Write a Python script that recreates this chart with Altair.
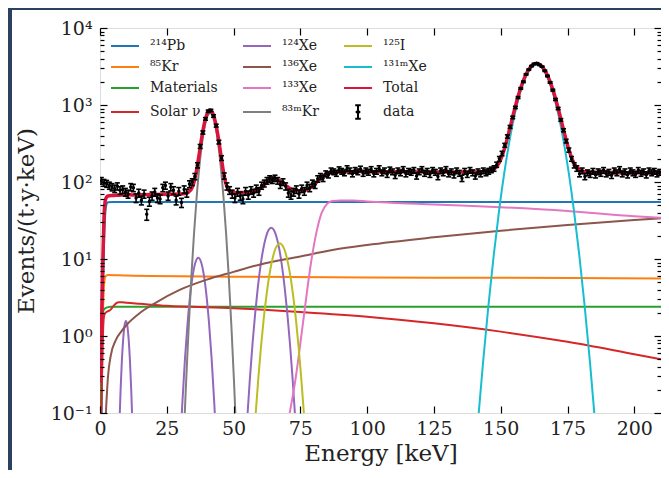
import altair as alt
import pandas as pd

# ---------------- axes ----------------
x_ticks = [0, 25, 50, 75, 100, 125, 150, 175, 200]
y_ticks = [0.1, 1, 10, 100, 1000, 10000]
y_tick_labels = ["10⁻¹", "10⁰", "10¹", "10²", "10³", "10⁴"]
y_minor_mult = [2, 3, 4, 5, 6, 7, 8, 9]
y_minor = [m * d for d in [0.1, 1, 10, 100, 1000] for m in y_minor_mult]

# ---------------- legend (column-major order, 3 columns x 4 rows) ----------------
legend_order = ["²¹⁴Pb", "⁸⁵Kr", "Materials", "Solar ν",
                "¹²⁴Xe", "¹³⁶Xe", "¹³³Xe", "⁸³ᵐKr",
                "¹²⁵I", "¹³¹ᵐXe", "Total", "data"]
legend_colors = ["#1f77b4", "#ff7f0e", "#2ca02c", "#d62728",
                 "#9467bd", "#8c564b", "#e377c2", "#7f7f7f",
                 "#bcbd22", "#17becf", "#dc143c", "#000000"]
LINE = "M-2,0L2,0"
ERRBAR = "M0,-0.95L0,0.95M-0.4,-0.95L0.4,-0.95M-0.4,0.95L0.4,0.95M-0.2,0L0,-0.2L0.2,0L0,0.2Z"
legend_shapes = [LINE] * 11 + [ERRBAR]

# ---------------- fitted components: energy [keV], rate [events/(t·y·keV)] ----------------
pb214_e = [0.5, 1.0, 1.5, 2.0, 2.5, 3.0, 5, 210]
pb214_v = [0.05, 2, 15, 40, 52, 54.5, 55, 55]

kr85_e = [0, 0.5, 1, 1.5, 2, 3, 10, 50, 100, 150, 210]
kr85_v = [0.05, 0.3, 1.5, 4.5, 5.9, 6.2, 6.1, 5.9, 5.75, 5.7, 5.6]

mat_e = [0, 0.3, 0.6, 1, 2, 4, 210]
mat_v = [0.1, 0.3, 0.9, 2.0, 2.3, 2.4, 2.4]

solar_e = [0.5, 1, 1.5, 2, 3, 4, 5, 6, 7, 8, 10, 15, 25, 50, 75, 100, 125, 150, 175, 200, 210]
solar_v = [0.1, 0.8, 1.8, 2.0, 2.1, 2.2, 2.45, 2.65, 2.75, 2.75, 2.7, 2.62, 2.47, 2.3, 2.05,
           1.78, 1.46, 1.14, 0.84, 0.58, 0.5]

xe124_e = [6.7, 7.2, 7.7, 8.2, 8.7, 9.2, 9.7, 10.2, 10.7, 11.2, 11.7, 12.2, 12.7,
           28.8, 29.8, 30.8, 31.8, 32.8, 33.8, 34.8, 35.8, 36.8, 37.8, 38.8, 39.8, 40.8,
           41.8, 42.8, 43.8, 44.8,
           53.1, 54.1, 55.1, 56.1, 57.1, 58.1, 59.1, 60.1, 61.1, 62.1, 63.1, 64.1, 65.1,
           66.1, 67.1, 68.1, 69.1, 70.1, 71.1, 72.1, 73.1, 74.1, 75.1]
xe124_v = [0.015, 0.061, 0.196, 0.49, 0.93, 1.38, 1.57, 1.38, 0.93, 0.49, 0.196, 0.061, 0.015,
           0.0044, 0.027, 0.13, 0.50, 1.49, 3.49, 6.4, 9.2, 10.4, 9.2, 6.4, 3.49, 1.49,
           0.50, 0.13, 0.027, 0.0044,
           0.0049, 0.022, 0.083, 0.277, 0.80, 2.0, 4.35, 8.2, 13.5, 19.2, 23.8, 25.5, 23.8,
           19.2, 13.5, 8.2, 4.35, 2.0, 0.80, 0.277, 0.083, 0.022, 0.0049]

i125_e = [56.3, 57.3, 58.3, 59.3, 60.3, 61.3, 62.3, 63.3, 64.3, 65.3, 66.3, 67.3,
          68.3, 69.3, 70.3, 71.3, 72.3, 73.3, 74.3, 75.3, 76.3, 77.3, 78.3]
i125_v = [0.0083, 0.031, 0.101, 0.293, 0.75, 1.69, 3.35, 5.9, 9.1, 12.5, 15.0, 16.0,
          15.0, 12.5, 9.1, 5.9, 3.35, 1.69, 0.75, 0.293, 0.101, 0.031, 0.0083]

xe136_e = [2.2, 3, 4, 6, 8, 10, 15, 20, 30, 40, 50, 60, 75, 87, 100, 125, 150, 175, 200, 210]
xe136_v = [0.1, 0.3, 0.55, 0.9, 1.15, 1.4, 2.0, 2.6, 4.0, 5.4, 6.8, 8.5, 10.8, 13.1,
           15.2, 19.1, 23.3, 27.7, 32.0, 33.7]

xe133_e = [71, 73, 75, 77, 79, 81, 83, 85, 87, 90, 95, 100, 125, 150, 175, 200, 210]
xe133_v = [0.1, 0.25, 0.8, 2.8, 9, 22, 40, 52, 56.5, 57.5, 57.5, 56, 51, 47, 42, 36, 34.4]

kr83m_e = [30.2, 31.2, 32.2, 33.2, 34.2, 35.2, 36.2, 37.2, 38.2, 39.2, 40.2, 41.2,
           42.2, 43.2, 44.2, 45.2, 46.2, 47.2, 48.2, 49.2, 50.2, 51.2, 52.2]
kr83m_v = [0.0044, 0.036, 0.24, 1.31, 5.9, 21.6, 64.9, 160, 321, 530, 715, 790,
           715, 530, 321, 160, 64.9, 21.6, 5.9, 1.31, 0.24, 0.036, 0.0044]

xe131m_e = [139.4, 141.4, 143.4, 145.4, 147.4, 149.4, 151.4, 153.4, 155.4, 157.4, 159.4,
            161.4, 163.4, 165.4, 167.4, 169.4, 171.4, 173.4, 175.4, 177.4, 179.4, 181.4,
            183.4, 185.4, 187.4]
xe131m_v = [0.0092, 0.071, 0.46, 2.49, 11.3, 42.8, 136, 361, 803, 1496, 2334,
            3047, 3330, 3047, 2334, 1496, 803, 361, 136, 42.8, 11.3, 2.49,
            0.46, 0.071, 0.0092]

total_e = [0, 0.5, 1, 1.5, 2, 2.5, 3, 5, 8, 9, 9.7, 10.5, 12, 15, 20, 25, 30, 32, 34, 35,
           36, 37, 38, 39, 40, 41.2, 42, 43, 44, 45, 46, 47, 48, 49, 50, 52, 54, 56, 58,
           60, 61, 62, 63, 64, 65, 66, 67, 68, 69, 70, 71, 72, 73, 74, 75, 76, 77, 78, 79,
           80, 81, 82, 83, 84, 85, 87, 90, 95, 100, 110, 125, 140, 143.4, 145.4, 147.4,
           149.4, 151.4, 153.4, 155.4, 157.4, 159.4, 161.4, 163.4, 165.4, 167.4, 169.4,
           171.4, 173.4, 175.4, 177.4, 179.4, 181.4, 183.4, 185.4, 200, 210]
total_v = [0.25, 1.0, 8, 35, 58, 64, 66, 66.8, 67.8, 68.6, 69.2, 68.6, 68, 68.1, 68.6, 69.3,
           69.9, 71, 78.8, 94.4, 133, 216, 363, 564, 758, 862, 813, 642, 432, 258, 151, 99,
           79.6, 73.7, 72.3, 72.7, 73.1, 73.7, 75.7, 82.5, 88.4, 95.9, 102.9, 108.2, 110.3,
           109, 105, 99.2, 93.2, 87.5, 83.1, 79.9, 78, 77, 76.9, 77.5, 78.7, 81, 85.1, 90.7,
           98.3, 107.4, 116.5, 123.6, 128.7, 133.5, 134.8, 137, 136.1, 135.6, 134.7, 134.5,
           134.9, 137, 145.8, 177, 270, 495, 937, 1630, 2468, 3181, 3464, 3181, 2468, 1630,
           937, 495, 270, 176, 145, 136, 134, 133.7, 131.6, 131.6]

# ---------------- measured data (1 keV bins, lower edges 0..209) ----------------
data_bin_low = list(range(210))
data_rate = [
    104, 98, 95, 90, 86, 82, 88, 78, 80, 74,
    70, 86, 84, 62, 72, 58, 70, 38, 56, 66,
    74, 62, 60, 84, 90, 66, 86, 78, 58, 76,
    54, 80, 72, 94, 100, 118, 165, 290, 440, 660,
    830, 850, 720, 540, 330, 205, 120, 88, 78, 70,
    62, 74, 66, 60, 76, 68, 78, 72, 82, 76,
    90, 96, 104, 110, 106, 112, 104, 92, 100, 88,
    72, 68, 74, 80, 70, 82, 76, 90, 84, 96,
    92, 110, 118, 112, 128, 124, 140, 136, 130, 145,
    138, 132, 150, 140, 128, 142, 136, 148, 130, 140,
    134, 146, 128, 138, 150, 132, 140, 126, 144, 136,
    122, 140, 132, 146, 128, 138, 134, 142, 120, 136,
    146, 130, 138, 126, 142, 134, 118, 140, 132, 146,
    128, 136, 124, 140, 130, 112, 138, 126, 142, 132,
    120, 136, 128, 140, 132, 138, 144, 150, 168, 200,
    235, 300, 390, 520, 690, 930, 1250, 1640, 2000, 2500,
    2880, 3200, 3420, 3480, 3320, 3150, 2780, 2380, 1960, 1560,
    1180, 900, 640, 470, 340, 260, 200, 165, 150, 128,
    140, 118, 132, 126, 138, 124, 136, 130, 142, 128,
    134, 122, 140, 132, 146, 128, 136, 124, 140, 132,
    126, 142, 130, 136, 124, 140, 132, 138, 128, 134,
]

# ---------------- tables ----------------
components = [
    ("²¹⁴Pb", pb214_e, pb214_v), ("⁸⁵Kr", kr85_e, kr85_v), ("Materials", mat_e, mat_v),
    ("Solar ν", solar_e, solar_v), ("¹²⁴Xe", xe124_e, xe124_v), ("¹³⁶Xe", xe136_e, xe136_v),
    ("¹³³Xe", xe133_e, xe133_v), ("⁸³ᵐKr", kr83m_e, kr83m_v), ("¹²⁵I", i125_e, i125_v),
    ("¹³¹ᵐXe", xe131m_e, xe131m_v),
]
comp_df = pd.DataFrame([{"series": n, "E": e, "V": v}
                        for n, es, vs in components for e, v in zip(es, vs)])
total_df = pd.DataFrame({"series": "Total", "E": total_e, "V": total_v})
data_df = pd.DataFrame({"low": data_bin_low, "rate": data_rate})

# ---------------- styling ----------------
SERIF = "DejaVu Serif"
TXT = "#222222"
xs = alt.Scale(domain=[0, 210], nice=False, zero=False)
ys = alt.Scale(type="log", domain=[0.1, 10000], nice=False)

label_expr = " : ".join(f"datum.value == {v} ? '{t}'" for v, t in zip(y_ticks, y_tick_labels)) + " : ''"

legend = alt.Legend(title=None, orient="none", legendX=17, legendY=10, columns=3,
                    labelFont=SERIF, labelFontSize=14, labelColor=TXT, labelLimit=200,
                    symbolSize=196, symbolStrokeWidth=2, symbolOpacity=1,
                    symbolFillColor="transparent",
                    rowPadding=6, columnPadding=21, labelOffset=17, padding=0)
color = alt.Color("series:N", scale=alt.Scale(domain=legend_order, range=legend_colors),
                  legend=legend)


def tick_axis(orient, values, size, offset):
    return alt.Axis(orient=orient, values=values, labels=False, ticks=True, tickSize=size,
                    tickWidth=1.2, tickColor="black", domain=False, grid=False,
                    offset=offset, title=None, zindex=2)


x_label_axis = alt.Axis(orient="bottom", values=x_ticks, ticks=False, tickSize=0,
                        domain=False, grid=False, labelFont=SERIF, labelFontSize=19,
                        labelColor=TXT, labelPadding=6, labelFlush=False,
                        title="Energy [keV]", titleFont=SERIF, titleFontSize=23,
                        titleFontWeight="normal", titleColor=TXT, titlePadding=4)
y_label_axis = alt.Axis(orient="left", values=y_ticks, labelExpr=label_expr, ticks=False,
                        tickSize=0, domain=False, grid=False, labelFont=SERIF,
                        labelFontSize=19, labelColor=TXT, labelPadding=8, labelFlush=False,
                        labelOverlap=False, title="Events/(t·y·keV)", titleFont=SERIF,
                        titleFontSize=23, titleFontWeight="normal", titleColor=TXT,
                        titlePadding=12)

comp_layer = alt.Chart(comp_df).mark_line(clip=True, strokeWidth=2, interpolate="monotone").encode(
    x=alt.X("E:Q", scale=xs, axis=x_label_axis),
    y=alt.Y("V:Q", scale=ys, axis=y_label_axis),
    color=color,
)

total_layer = alt.Chart(total_df).mark_line(clip=True, strokeWidth=3.5, interpolate="monotone").encode(
    x=alt.X("E:Q", scale=xs, axis=tick_axis("bottom", x_ticks, 7, -7)),
    y=alt.Y("V:Q", scale=ys, axis=tick_axis("left", y_ticks, 7, -7)),
    color=color,
)

data_base = alt.Chart(data_df).transform_calculate(
    E="datum.low + 0.5",
    lo="datum.rate - sqrt(datum.rate)",
    hi="datum.rate + sqrt(datum.rate)",
)

bars = data_base.mark_rule(color="black", strokeWidth=1.6, clip=True).encode(
    x=alt.X("E:Q", scale=xs, axis=tick_axis("top", x_ticks, 7, -7)),
    y=alt.Y("lo:Q", scale=ys, axis=tick_axis("right", y_ticks, 7, -7)),
    y2="hi:Q",
)
caps = data_base.transform_fold(["lo", "hi"], as_=["which", "edge"]).mark_tick(
    color="black", orient="horizontal", size=5, thickness=1.6, clip=True, opacity=1
).encode(
    x=alt.X("E:Q", scale=xs, axis=None),
    y=alt.Y("edge:Q", scale=ys, axis=tick_axis("left", y_minor, 4, -4)),
)
dots = data_base.mark_circle(color="black", size=12, opacity=1, clip=True).encode(
    x=alt.X("E:Q", scale=xs, axis=None),
    y=alt.Y("rate:Q", scale=ys, axis=tick_axis("right", y_minor, 4, -4)),
)

legend_layer = alt.Chart(comp_df).mark_point(opacity=0, clip=True, size=1).encode(
    x=alt.X("E:Q", scale=xs, axis=None),
    y=alt.Y("V:Q", scale=ys, axis=None),
    shape=alt.Shape("series:N", scale=alt.Scale(domain=legend_order, range=legend_shapes),
                    legend=legend),
)

frame = alt.Chart(pd.DataFrame({"k": [0]})).mark_rect(
    fillOpacity=0, stroke="#2c4060", strokeWidth=4, clip=False
).encode(x=alt.value(-90), x2=alt.value(640), y=alt.value(-20), y2=alt.value(480))

chart = alt.layer(
    frame, comp_layer, total_layer, bars, caps, dots, legend_layer
).resolve_scale(x="shared", y="shared").resolve_axis(
    x="independent", y="independent"
).properties(
    width=561, height=385,
    autosize=alt.AutoSizeParams(type="none"),
    padding={"left": 92, "top": 20, "right": 0, "bottom": 57},
).configure_view(stroke="black", strokeWidth=1.3).configure(background="white")

chart.save("out.html", embed_options={"renderer": "svg", "actions": False})
